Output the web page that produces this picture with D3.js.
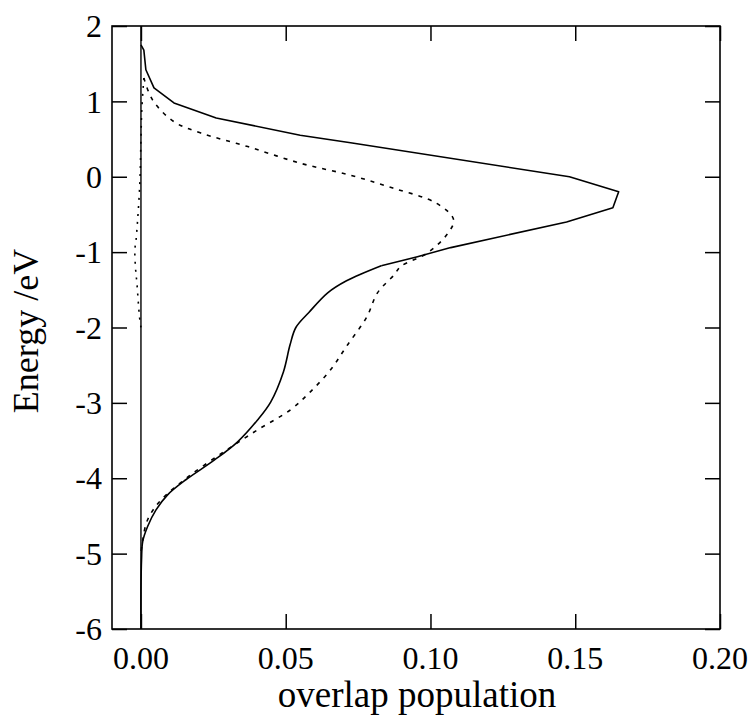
<!DOCTYPE html>
<html>
<head>
<meta charset="utf-8">
<script src="https://cdn.jsdelivr.net/npm/d3@7"></script>
<style>
  html, body { margin: 0; padding: 0; background: #fff; }
  svg { display: block; }
</style>
</head>
<body>
<svg id="chart" width="751" height="717"></svg>
<script>
// ---- data ----
const xTicks = [0.00, 0.05, 0.10, 0.15, 0.20];
const xTickLabels = ["0.00", "0.05", "0.10", "0.15", "0.20"];
const yTicks = [2, 1, 0, -1, -2, -3, -4, -5, -6];
const yTickLabels = ["2", "1", "0", "-1", "-2", "-3", "-4", "-5", "-6"];
const xTitle = "overlap population";
const yTitle = "Energy /eV";

// solid curve, upper (piecewise-straight) part: energy and overlap population
const solidUpperEnergy = [1.75, 1.68, 1.42, 1.18, 0.98, 0.78, 0.55, 0.45, 0.0, -0.2, -0.41, -0.6, -0.94, -1.06, -1.18];
const solidUpperPop = [0.0, 0.001, 0.0017, 0.0045, 0.0114, 0.026, 0.055, 0.0724, 0.148, 0.165, 0.163, 0.147, 0.107, 0.0955, 0.083];
// solid curve, lower (smooth) part
const solidLowerEnergy = [-1.18, -1.38, -1.54, -1.80, -2.0, -2.23, -2.59, -2.99, -3.23, -3.52, -3.76, -4.02, -4.22, -4.42, -4.64, -4.84, -5.08, -5.5, -6.0];
const solidLowerPop = [0.083, 0.071, 0.0645, 0.058, 0.0535, 0.0515, 0.0492, 0.0448, 0.0402, 0.0333, 0.0253, 0.0155, 0.0092, 0.0052, 0.0023, 0.0006, 0.0002, 0.0, 0.0];

// dashed curve
const dashEnergy = [1.31, 1.02, 0.73, 0.58, 0.40, 0.18, 0.02, -0.15, -0.35, -0.57, -0.75, -1.01, -1.19, -1.30, -1.54, -1.86, -2.25, -2.56, -2.85, -3.09, -3.36, -3.65, -3.99, -4.29, -4.55, -4.82, -5.0];
const dashPop = [0.001, 0.004, 0.0114, 0.0207, 0.0369, 0.055, 0.0724, 0.087, 0.102, 0.108, 0.106, 0.099, 0.0897, 0.0875, 0.0817, 0.078, 0.071, 0.0655, 0.0586, 0.0517, 0.0402, 0.0286, 0.016, 0.0069, 0.0023, 0.0006, 0.0];

// dotted near-zero branch
const dotEnergy = [1.31, 0.9, 0.5, 0.0, -0.31, -0.6, -0.84, -0.97, -1.2, -1.41, -1.86, -2.0];
const dotPop = [0.001, 0.0003, 0.0, -0.0003, -0.0007, -0.0012, -0.0017, -0.0021, -0.0019, -0.0014, -0.0005, 0.0];

// ---- layout ----
const svg = d3.select("#chart");
const mLeft = 112, mRight = 720, mTop = 26, mBottom = 629;
const x = d3.scaleLinear().domain([-0.01, 0.20]).range([mLeft, mRight]);
const y = d3.scaleLinear().domain([-6, 2]).range([mBottom, mTop]);
const tickLen = 15;
const font = "'Liberation Serif', 'Times New Roman', serif";

svg.append("rect").attr("width", 751).attr("height", 717).attr("fill", "#fff");

const g = svg.append("g");

// zero line
g.append("line")
  .attr("x1", x(0)).attr("x2", x(0))
  .attr("y1", y(2)).attr("y2", y(-6))
  .attr("stroke", "#000").attr("stroke-width", 1.4);

// curves
const zip = (a, b) => a.map((e, i) => [e, b[i]]);
const solidUpper = zip(solidUpperEnergy, solidUpperPop);
const solidLower = zip(solidLowerEnergy, solidLowerPop);
const dashed = zip(dashEnergy, dashPop);
const dotted = zip(dotEnergy, dotPop);

const straight = d3.line().x(d => x(d[1])).y(d => y(d[0]));
const smooth = d3.line().x(d => x(d[1])).y(d => y(d[0])).curve(d3.curveCatmullRom.alpha(0.5));

g.append("path").attr("d", straight(solidUpper))
  .attr("fill", "none").attr("stroke", "#000").attr("stroke-width", 1.6)
  .attr("stroke-linejoin", "round");
g.append("path").attr("d", smooth(solidLower))
  .attr("fill", "none").attr("stroke", "#000").attr("stroke-width", 1.6);
g.append("path").attr("d", smooth(dashed))
  .attr("fill", "none").attr("stroke", "#000").attr("stroke-width", 1.6)
  .attr("stroke-dasharray", "4,6");
g.append("path").attr("d", smooth(dotted))
  .attr("fill", "none").attr("stroke", "#000").attr("stroke-width", 1.6)
  .attr("stroke-dasharray", "2,6");

// axes (ticks inward)
const axL = d3.axisRight(y).tickValues(yTicks).tickSize(tickLen).tickFormat("");
const axR = d3.axisLeft(y).tickValues(yTicks).tickSize(tickLen).tickFormat("");
const axB = d3.axisTop(x).tickValues(xTicks).tickSize(tickLen).tickFormat("");
const axT = d3.axisBottom(x).tickValues(xTicks).tickSize(tickLen).tickFormat("");

function styleAxis(sel) {
  sel.select(".domain").remove();
  sel.selectAll("line").attr("stroke", "#000").attr("stroke-width", 1.5);
}
g.append("g").attr("transform", `translate(${mLeft},0)`).call(axL).call(styleAxis);
g.append("g").attr("transform", `translate(${mRight},0)`).call(axR).call(styleAxis);
g.append("g").attr("transform", `translate(0,${mBottom})`).call(axB).call(styleAxis);
g.append("g").attr("transform", `translate(0,${mTop})`).call(axT).call(styleAxis);

// frame
g.append("rect")
  .attr("x", mLeft).attr("y", mTop)
  .attr("width", mRight - mLeft).attr("height", mBottom - mTop)
  .attr("fill", "none").attr("stroke", "#000").attr("stroke-width", 1.6);

// tick labels
g.selectAll(".ylab").data(yTicks).enter().append("text")
  .attr("x", 102).attr("y", d => y(d))
  .attr("dy", "0.35em")
  .attr("text-anchor", "end")
  .attr("font-family", font).attr("font-size", 32)
  .text((d, i) => yTickLabels[i]);

g.selectAll(".xlab").data(xTicks).enter().append("text")
  .attr("x", d => x(d)).attr("y", 669)
  .attr("text-anchor", "middle")
  .attr("font-family", font).attr("font-size", 32)
  .text((d, i) => xTickLabels[i]);

// titles
g.append("text")
  .attr("x", (mLeft + mRight) / 2 + 1).attr("y", 707)
  .attr("text-anchor", "middle")
  .attr("font-family", font).attr("font-size", 37)
  .text(xTitle);

g.append("text")
  .attr("transform", `translate(38,331) rotate(-90)`)
  .attr("text-anchor", "middle")
  .attr("font-family", font).attr("font-size", 36)
  .text(yTitle);
</script>
</body>
</html>
